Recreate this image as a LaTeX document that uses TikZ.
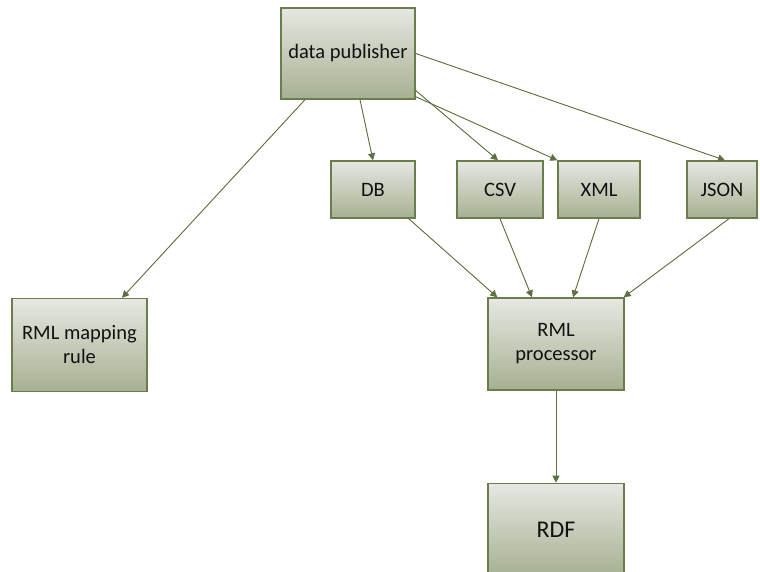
\documentclass[tikz,border=0pt]{standalone}
\usepackage{fontspec}
\setmainfont{Carlito}
\usetikzlibrary{arrows.meta,positioning,calc}
\usepackage{xcolor}
\definecolor{boxtop}{HTML}{E6E8E2}
\definecolor{boxbot}{HTML}{A6B092}
\definecolor{olive}{HTML}{6B7D4C}
\definecolor{link}{HTML}{5E7040}
\definecolor{ink}{HTML}{111111}
\tikzset{
  >={Triangle[length=7pt,width=7pt]},
  every node/.style={font=\fontsize{20.5}{24}\selectfont,text=ink},
  box/.style={draw=olive,line width=1.4pt,top color=boxtop,bottom color=boxbot,align=center,inner sep=3pt},
  srcbox/.style={box,minimum height=57pt},
  bigbox/.style={box,minimum width=136pt,minimum height=92pt},
  arrow/.style={->,line width=0.9pt,draw=link,fill=link},
}
\begin{document}
\begin{tikzpicture}[x=1pt,y=-1pt]
\clip (0,0) rectangle (760,572);

% publisher and mapping
\node[box,minimum width=134pt,minimum height=91pt] (pub) at (348,53.5) {data publisher};
\node[bigbox,minimum width=135pt,minimum height=93pt] (map) at (79.5,345) {RML mapping\\rule};

% sources
\node[srcbox,minimum width=84pt] (db) at (373,189.5) {DB};
\node[srcbox,minimum width=86pt] (csv) at (500,189.5) {CSV};
\node[srcbox,minimum width=82pt] (xml) at (599,189.5) {XML};
\node[srcbox,minimum width=70pt] (json) at (722,189.5) {JSON};

% processing
\node[bigbox] (proc) at (556,344) {RML\\processor};
\node[bigbox,below=92pt of proc,font=\fontsize{24}{28}\selectfont] (rdf) {RDF};

\draw[arrow] ([xshift=-43pt]pub.south) -- ([xshift=42.5pt]map.north);
\draw[arrow] ([xshift=12pt]pub.south) -- (db.north);
\draw[arrow] ([yshift=-37pt]pub.east) -- ([xshift=-2pt]csv.north);
\draw[arrow] ([yshift=3pt]pub.south east) -- (xml.north west);
\draw[arrow] (pub.east) -- ([xshift=3pt]json.north);

\draw[arrow] ([xshift=-7pt]db.south east) -- ([xshift=10pt]proc.north west);
\draw[arrow] (csv.south) -- ([xshift=-24pt]proc.north);
\draw[arrow] (xml.south) -- ([xshift=17pt]proc.north);
\draw[arrow] ([xshift=7pt]json.south) -- ([xshift=-1pt]proc.north east);
\draw[arrow] (proc.south) -- (rdf.north);

\end{tikzpicture}
\end{document}
